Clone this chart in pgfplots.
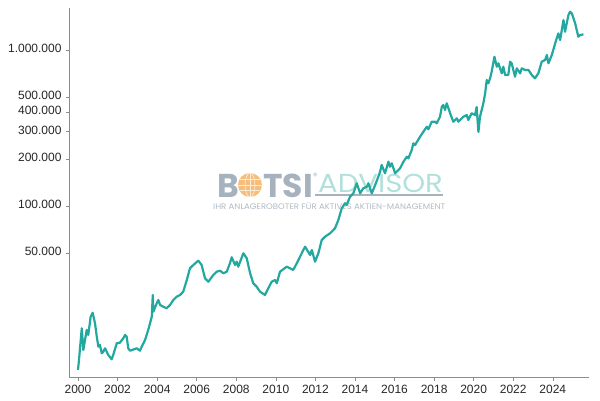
\documentclass[border=0pt]{standalone}
\usepackage{pgfplots}
\pgfplotsset{compat=1.18}
\usepackage{pgfplotstable}
\usepackage{graphicx}
\usepackage{fontspec}
\setmainfont{Liberation Sans}
\newfontfamily\logofont{Poppins}
\definecolor{linecol}{RGB}{35,168,160}
\definecolor{botsigray}{RGB}{166,178,190}
\definecolor{advteal}{RGB}{178,224,219}
\definecolor{subgray}{RGB}{176,186,196}
\definecolor{globe}{RGB}{246,190,122}
\definecolor{axgray}{RGB}{140,140,140}

\pgfplotstableread{
year value
2000.00 8900
2000.05 10300
2000.19 16440
2000.27 11940
2000.44 16040
2000.52 14900
2000.64 19520
2000.74 20700
2000.86 17700
2000.95 14530
2001.03 12530
2001.11 12850
2001.20 11370
2001.28 11640
2001.37 12240
2001.45 11640
2001.53 11090
2001.70 10400
2001.78 11090
2001.96 13180
2002.12 13300
2002.29 14190
2002.38 14900
2002.46 14530
2002.54 12240
2002.63 11810
2002.97 12240
2003.13 11810
2003.22 12530
2003.39 13840
2003.55 16040
2003.73 19520
2003.78 26890
2003.81 21010
2003.98 23780
2004.06 24970
2004.15 23190
2004.31 22620
2004.48 22090
2004.65 23190
2004.82 24970
2004.99 26220
2005.16 26890
2005.32 28250
2005.50 33560
2005.66 39870
2005.83 41870
2006.08 44600
2006.25 41870
2006.42 34400
2006.59 32710
2006.84 36120
2007.01 37920
2007.18 38480
2007.35 37040
2007.52 37920
2007.68 42930
2007.77 46910
2007.94 41870
2008.02 43950
2008.10 40830
2008.36 49770
2008.53 46210
2008.70 37040
2008.86 31950
2009.03 30400
2009.20 28250
2009.45 26890
2009.62 29680
2009.79 32710
2009.96 33560
2010.05 31950
2010.21 37920
2010.55 40830
2010.88 38900
2011.06 42930
2011.39 52240
2011.48 54840
2011.73 48520
2011.82 52240
2011.98 43950
2012.15 49770
2012.32 60530
2012.49 63570
2012.74 66830
2012.99 71940
2013.16 81320
2013.33 96660
2013.50 104100
2013.58 101500
2013.75 114700
2013.92 120600
2014.09 139800
2014.26 120600
2014.42 129900
2014.60 132900
2014.68 139800
2014.85 120600
2015.02 136300
2015.18 154100
2015.27 165900
2015.35 183200
2015.52 162000
2015.69 192300
2015.77 178600
2015.86 187800
2016.03 162000
2016.28 174500
2016.45 192300
2016.62 207000
2016.70 202200
2016.87 228600
2016.95 252300
2017.04 246000
2017.29 278100
2017.46 299500
2017.63 322400
2017.71 310200
2017.88 347100
2018.05 347100
2018.13 339000
2018.30 373600
2018.39 432900
2018.47 444000
2018.55 412500
2018.64 455300
2018.81 392900
2018.97 347100
2019.15 364900
2019.23 347100
2019.48 373600
2019.65 383100
2019.73 355900
2019.90 392900
2020.07 383100
2020.15 431000
2020.24 298200
2020.32 373600
2020.49 455300
2020.58 527700
2020.66 642200
2020.74 611600
2020.83 658500
2020.91 726000
2021.05 905700
2021.17 781600
2021.25 821600
2021.42 708900
2021.50 781600
2021.59 691300
2021.75 691300
2021.84 841400
2021.92 821600
2022.09 674300
2022.18 763300
2022.35 708900
2022.43 763300
2022.60 744400
2022.77 744400
2022.94 691300
2023.10 658500
2023.27 708900
2023.44 841400
2023.61 862800
2023.70 928900
2023.78 821600
2023.95 928900
2024.12 1104000
2024.28 1279000
2024.37 1159000
2024.54 1557000
2024.62 1310000
2024.79 1677000
2024.87 1760000
2024.96 1719000
2025.13 1483000
2025.29 1217000
2025.38 1248000
2025.55 1260000
}\depot

\begin{document}
\begin{tikzpicture}
\path[use as bounding box] (-69pt,-22.3pt) rectangle (531pt,377.7pt);
% watermark logo
\node[anchor=base west, inner sep=0pt, text depth=0pt, text=botsigray, font=\logofont\bfseries\fontsize{33}{33}\selectfont] at (148.3pt,180.7pt) {B};
\node[anchor=base east, inner sep=0pt, text depth=0pt, text=botsigray, font=\logofont\bfseries\fontsize{33}{33}\selectfont] at (244pt,180.7pt) {TSI};
\fill[globe] (181pt,192.7pt) circle (12pt);
\begin{scope}
\clip (181pt,192.7pt) circle (12pt);
\draw[white!70!globe, line width=0.7pt] (181pt,192.7pt) ellipse (5pt and 12pt);
\draw[white!70!globe, line width=0.7pt] (181pt,180.7pt) -- (181pt,204.7pt);
\draw[white!70!globe, line width=0.7pt] (169pt,192.7pt) -- (193pt,192.7pt);
\draw[white!70!globe, line width=0.7pt] (169pt,187pt) -- (193pt,187pt);
\draw[white!70!globe, line width=0.7pt] (169pt,198.4pt) -- (193pt,198.4pt);
\end{scope}
\node[anchor=center, inner sep=0pt, text=botsigray, font=\logofont\fontsize{9}{9}\selectfont] at (246.5pt,201pt) {®};
\node[anchor=base west, inner sep=0pt, text depth=0pt, text=advteal, font=\logofont\fontsize{26}{26}\selectfont] at (249pt,185.2pt) {\scalebox{1.12}[1]{ADVISOR}};
\draw[botsigray, line width=2pt] (246pt,182.7pt) -- (374pt,182.7pt);
\node[anchor=base west, inner sep=0pt, text depth=0pt, text height=5.8pt, text=subgray, font=\logofont\fontsize{8}{8}\selectfont] at (144pt,168.7pt) {\scalebox{1.07}[1]{IHR ANLAGEROBOTER FÜR AKTIVES AKTIEN-MANAGEMENT}};
\begin{axis}[
  at={(0,0)}, anchor=south west,
  scale only axis, width=520pt, height=369.7pt,
  xmin=1999.545, xmax=2025.83,
  ymode=log, ymin=7930, ymax=1860000,
  axis x line*=bottom, axis y line*=left,
  axis line style={axgray, line width=0.9pt},
  tick style={axgray, line width=0.6pt},
  major tick length=3pt, tick align=outside,
  yminorticks=false, xminorticks=false,
  xtick={2000,2002,2004,2006,2008,2010,2012,2014,2016,2018,2020,2022,2024},
  xticklabels={2000,2002,2004,2006,2008,2010,2012,2014,2016,2018,2020,2022,2024},
  ytick={50000,100000,200000,300000,400000,500000,1000000},
  yticklabels={50.000,100.000,200.000,300.000,400.000,500.000,1.000.000},
  tick label style={font=\fontsize{12}{12}\selectfont, text=black!85},
  yticklabel style={xshift=-1pt, yshift=1.5pt},
  xticklabel style={yshift=-1pt},
]
\addplot[color=linecol, line width=2.2pt, line join=round] table[x=year,y=value] {\depot};
\end{axis}
\end{tikzpicture}
\end{document}
